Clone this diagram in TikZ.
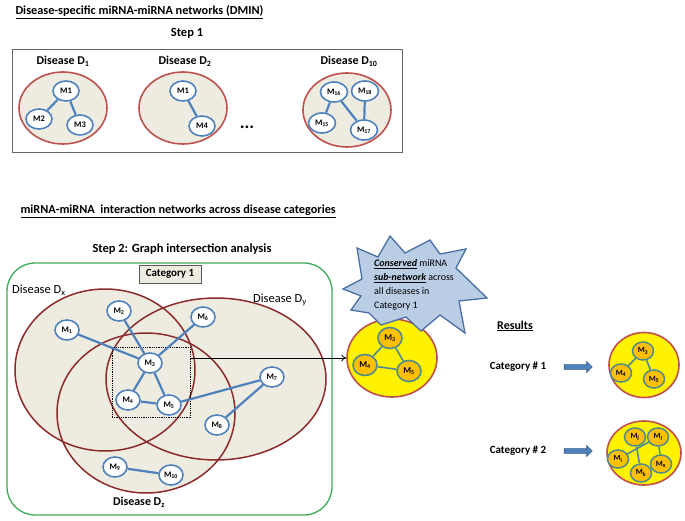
\documentclass[tikz,border=0pt]{standalone}
\usepackage{fontspec}
\setmainfont{Carlito}
\usetikzlibrary{shapes.geometric,shapes.arrows,arrows.meta,calc}
\definecolor{mblue}{HTML}{4F81BD}
\definecolor{beige}{HTML}{EEECE1}
\definecolor{lred}{HTML}{C0504D}
\definecolor{dred}{HTML}{8B2B2B}
\definecolor{grn}{HTML}{3DAA5C}
\definecolor{starfill}{HTML}{B9CDE5}
\definecolor{stardraw}{HTML}{4A6FA5}
\definecolor{gold}{HTML}{FFC000}
\definecolor{tealb}{HTML}{4E8A8E}
\definecolor{arrowb}{HTML}{385D8A}
\newcommand{\myfs}[1]{\fontsize{#1}{#1}\selectfont}
\newcommand{\sbs}[1]{\textsubscript{#1}}
\begin{document}
\begin{tikzpicture}[x=1bp,y=-1bp,
  ttl/.style={font=\bfseries\myfs{12.3}, anchor=west},
  lbl/.style={font=\bfseries\myfs{12}},
  mnode/.style={ellipse, draw=mblue, line width=1.6bp, fill=white, inner sep=0pt, minimum width=24bp, minimum height=20bp, font=\bfseries\myfs{8.5}},
  edge/.style={draw=mblue, line width=2.2bp},
  dis1/.style={ellipse, draw=lred, fill=beige, line width=1.6bp, inner sep=0pt},
  yel/.style={ellipse, draw=lred, fill=yellow, line width=1.6bp, inner sep=0pt},
  ynode/.style={ellipse, draw=tealb, line width=1.6bp, fill=gold, inner sep=0pt, minimum width=24bp, minimum height=21bp, font=\bfseries\myfs{9}},
  rnode/.style={ellipse, draw=tealb, line width=1.5bp, fill=gold, inner sep=0pt, minimum width=21bp, minimum height=18bp, font=\bfseries\myfs{8}},
  yedge/.style={draw=tealb, line width=1.6bp},
  barrow/.style={single arrow, fill=mblue, draw=arrowb, line width=0.6bp, minimum height=28bp, minimum width=11bp, inner sep=2bp, single arrow head extend=3bp, single arrow head indent=0pt}
]
\useasboundingbox (0,0) rectangle (685,521);

% ---------- Step 1 ----------
\node[ttl] (t1) at (12,12) {\underline{Disease-specific miRNA-miRNA networks (DMIN)}};
\node[font=\bfseries\myfs{12.5}] (s1) at (187,33) {Step 1};
\draw[gray!80!black, line width=1bp] (12,50) rectangle (402,153);

\node[lbl] (l1) at (63,61) {Disease D\sbs{1}};
\node[lbl] (l2) at (185,61) {Disease D\sbs{2}};
\node[lbl] (l3) at (349,61) {Disease D\sbs{10}};

\node[dis1, minimum width=88bp, minimum height=72bp] (e1) at (63,108) {};
\node[dis1, minimum width=88bp, minimum height=72bp] (e2) at (183,108) {};
\node[dis1, minimum width=88bp, minimum height=74bp] (e3) at (347,110) {};

\node[mnode, minimum width=26bp] (a1) at (66,91) {M1};
\node[mnode, minimum width=26bp] (a2) at (39,119) {M2};
\node[mnode, minimum width=26bp] (a3) at (80,125) {M3};
\draw[edge] (a1) -- (a2);
\draw[edge] (a1) -- (a3);

\node[mnode, minimum width=26bp] (b1) at (183,91) {M1};
\node[mnode, minimum width=26bp] (b4) at (202,126) {M4};
\draw[edge] (b1) -- (b4);

\node[mnode, minimum width=27bp] (c16) at (334,92) {M\sbs{16}};
\node[mnode, minimum width=27bp] (c18) at (365,91) {M\sbs{18}};
\node[mnode, minimum width=27bp] (c15) at (322,123) {M\sbs{15}};
\node[mnode, minimum width=27bp] (c17) at (364,130) {M\sbs{17}};
\draw[edge] (c16) -- (c15);
\draw[edge] (c16) -- (c17);
\draw[edge] (c18) -- (c17);

\node[font=\bfseries\myfs{18}] (dots) at (247,127) {...};

% ---------- Step 2 ----------
\node[ttl] (t2) at (17,211) {\underline{miRNA-miRNA\ \ interaction networks across disease categories}};
\node[font=\bfseries\myfs{12.5}] (s2) at (182,249) {Step 2: Graph intersection analysis};
\draw[grn, line width=1.3bp, rounded corners=28bp] (7,263) rectangle (332,515);

\fill[beige] (105,370) ellipse [x radius=90, y radius=81];
\fill[beige] (216,379) ellipse [x radius=110, y radius=81];
\fill[beige] (146,413) ellipse [x radius=89, y radius=80];
\draw[dred, line width=1.5bp] (105,370) ellipse [x radius=90, y radius=81];
\draw[dred, line width=1.5bp] (216,379) ellipse [x radius=110, y radius=81];
\draw[dred, line width=1.5bp] (146,413) ellipse [x radius=89, y radius=80];

\node[draw=gray!70!black, fill=beige, line width=1bp, font=\bfseries\myfs{11}, minimum width=62bp, minimum height=18bp, inner sep=1bp] (cat) at (170,274) {Category 1};
\node[font=\myfs{12.5}, anchor=west, inner sep=0pt] (ldx) at (12,290) {Disease D\sbs{x}};
\node[font=\myfs{12.5}] (ldy) at (280,300) {Disease D\sbs{y}};
\node[font=\bfseries\myfs{12}] (ldz) at (139,502) {Disease D\sbs{z}};

\node[draw, densely dotted, line width=0.8bp, minimum width=78bp, minimum height=70bp, inner sep=0pt] (sel) at (151,382) {};

\node[mnode] (m1) at (67,330) {M\sbs{1}};
\node[mnode] (m2) at (119,311) {M\sbs{2}};
\node[mnode] (m6) at (203,317) {M\sbs{6}};
\node[mnode] (m3) at (150,363) {M\sbs{3}};
\node[mnode] (m4) at (128,400) {M\sbs{4}};
\node[mnode] (m5) at (169,405) {M\sbs{5}};
\node[mnode] (m7) at (272,377) {M\sbs{7}};
\node[mnode] (m8) at (217,425) {M\sbs{8}};
\node[mnode] (m9) at (115,467) {M\sbs{9}};
\node[mnode] (m10) at (171,475) {M\sbs{10}};
\draw[edge] (m1) -- (m3);
\draw[edge] (m2) -- (m3);
\draw[edge] (m6) -- (m3);
\draw[edge] (m3) -- (m4);
\draw[edge] (m3) -- (m5);
\draw[edge] (m4) -- (m5);
\draw[edge] (m5) -- (m7);
\draw[edge] (m7) -- (m8);
\draw[edge] (m9) -- (m10);

% conserved sub-network
\node[yel, minimum width=90bp, minimum height=78bp] (ye) at (392,358) {};
\node[ynode] (y3) at (390,338) {M\sbs{3}};
\node[ynode] (y4) at (365,365) {M\sbs{4}};
\node[ynode] (y5) at (409,371) {M\sbs{5}};
\draw[yedge] (y3) -- (y4);
\draw[yedge] (y3) -- (y5);
\draw[yedge] (y4) -- (y5);
\draw[-{To[length=5bp,width=7bp]}, line width=0.8bp] (sel.east |- ye.west) -- (ye.west);

% starburst callout
\draw[fill=starfill, draw=stardraw, line width=1.3bp, line join=miter]
  (343,289) -- (362,279) -- (357,248) -- (378,257) -- (390,236) -- (405,253) -- (430,240)
  -- (440,254) -- (466,249) -- (456,268) -- (487,298) -- (459,301) -- (465,333)
  -- (440,315) -- (421,331) -- (406,317) -- (381,325) -- (369,313) -- (351,310) -- (361,296) -- cycle;
\node[font=\fontsize{10}{14}\selectfont, align=left, anchor=west, inner sep=0pt] (startxt) at (374,285)
  {\textbf{\textit{\underline{Conserved}}} miRNA\\ \textbf{\textit{\underline{sub-network}}} across\\ all diseases in\\ Category 1};

% ---------- Results ----------
\node[font=\bfseries\myfs{12}] (res) at (515,326) {\underline{Results}};
\node[font=\bfseries\myfs{11}] (rc1) at (518,367) {Category \# 1};
\node[font=\bfseries\myfs{11}] (rc2) at (518,451) {Category \# 2};
\node[barrow] (ar1) at (577,367) {};
\node[barrow] (ar2) at (577,451) {};

\node[yel, minimum width=70bp, minimum height=65bp] (re1) at (644,365) {};
\node[rnode] (r3) at (643,351) {M\sbs{3}};
\node[rnode] (r4) at (621,373) {M\sbs{4}};
\node[rnode] (r5) at (654,379) {M\sbs{5}};
\draw[yedge] (r3) -- (r4);
\draw[yedge] (r3) -- (r5);

\node[yel, minimum width=74bp, minimum height=64bp] (re2) at (644,453) {};
\node[rnode] (rj) at (635,437) {M\sbs{j}};
\node[rnode] (rl) at (658,437) {M\sbs{l}};
\node[rnode] (ri) at (618,459) {M\sbs{i}};
\node[rnode] (rk) at (641,473) {M\sbs{k}};
\node[rnode] (rx) at (661,464) {M\sbs{x}};
\draw[yedge] (rj) -- (rk);
\draw[yedge] (ri) -- (rl);
\draw[yedge] (rl) -- (rx);
\end{tikzpicture}
\end{document}
